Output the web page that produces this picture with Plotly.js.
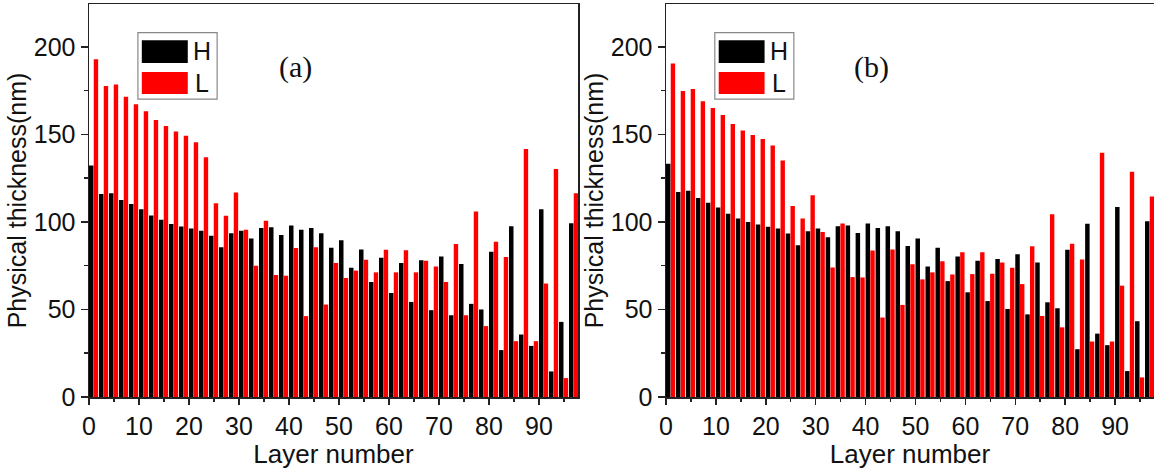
<!DOCTYPE html>
<html><head><meta charset="utf-8">
<script src="https://cdn.plot.ly/plotly-3.0.1.min.js"></script>
<style>html,body{margin:0;padding:0;background:#fff}</style>
</head><body><div id="chart" style="width:1154px;height:469px"></div>
<script>
// Panel (a): H layers (odd), L layers (even)
const hA = [132.2,115.9,116.4,112.6,110.2,107.3,103.7,101.3,98.8,97.4,96.3,95.0,92.1,85.5,93.6,95.0,90.6,96.5,96.9,92.6,
            98.0,95.5,96.5,93.6,85.3,89.5,73.9,84.3,65.7,79.6,59.4,76.5,54.3,78.1,49.6,80.3,46.7,76.0,53.2,50.0,
            83.0,26.8,97.6,35.7,29.2,107.3,14.6,42.9,99.3];
const lA = [193.0,177.6,178.5,171.5,167.3,163.3,158.2,154.8,151.6,149.3,145.5,136.9,110.7,103.5,116.8,95.5,75.0,100.7,69.7,69.3,
            85.1,46.2,85.5,52.8,76.5,68.0,72.2,78.4,71.2,84.1,71.2,83.8,71.2,77.9,74.6,65.7,87.4,46.7,106.0,40.5,
            88.7,80.0,31.9,141.7,31.9,64.8,130.3,10.8,116.4];
// Panel (b)
const hB = [133.2,117.1,117.8,113.7,111.0,108.3,104.7,101.9,100.0,98.5,97.3,96.2,93.4,86.7,94.7,96.2,91.3,97.5,97.9,93.7,
            99.1,96.6,97.5,94.7,86.3,90.5,74.6,85.2,66.2,80.3,59.8,77.8,54.8,78.9,50.3,81.6,47.2,76.9,54.1,50.7,
            84.1,27.3,98.9,36.2,29.6,108.5,14.8,43.3,100.4];
const lB = [190.5,174.8,175.9,168.9,165.1,161.1,156.0,152.2,149.7,147.4,143.6,135.1,109.1,101.9,115.2,94.3,74.0,99.1,68.5,68.3,
            83.7,45.4,84.3,52.6,75.9,67.2,71.2,77.6,70.0,82.7,70.2,82.7,70.4,76.9,73.8,64.5,86.1,46.3,104.4,39.8,
            87.5,78.6,31.7,139.5,31.7,63.6,128.7,11.2,114.6];
const hLayers = hA.map((_, i) => 2 * i + 1);
const lLayers = lA.map((_, i) => 2 * i + 2);
const seriesNames = ['H', 'L'];
const panelLabels = ['(a)', '(b)'];
const xTitle = 'Layer number';
const yTitle = 'Physical thickness(nm)';

const SANS = 'Liberation Sans, Arial, sans-serif';
const SERIF = 'Liberation Serif, Times New Roman, serif';
const AX = '#222';

function barTrace(x, y, color, xa, ya, offset, width) {
  return {type: 'bar', x: x, y: y, offset: offset, width: width,
          marker: {color: color, line: {width: 0}}, xaxis: xa, yaxis: ya,
          showlegend: false, hoverinfo: 'skip'};
}
const data = [
  barTrace(hLayers, hA, '#000000', 'x', 'y', -1, 0.9),
  barTrace(lLayers, lA, '#ff0000', 'x', 'y', -1.05, 0.88),
  barTrace(hLayers, hB, '#000000', 'x2', 'y2', -1, 0.9),
  barTrace(lLayers, lB, '#ff0000', 'x2', 'y2', -1.05, 0.88)
];

function xAxis(domain, anchor) {
  return {domain: domain, anchor: anchor, range: [0, 97.8], showline: true, linecolor: AX, linewidth: 1.5,
    mirror: true, ticks: 'outside', ticklen: 6, tickwidth: 1.5, tickcolor: AX, tick0: 0, dtick: 10,
    minor: {dtick: 5, ticks: 'outside', ticklen: 3, tickwidth: 1.5, tickcolor: AX},
    showgrid: false, zeroline: false, fixedrange: true, ticklabelstandoff: 0,
    tickfont: {family: SANS, size: 25, color: '#111'},
    title: {text: xTitle, font: {family: SANS, size: 26, color: '#111'}, standoff: 4}};
}
function yAxis(anchor) {
  return {domain: [0, 1], anchor: anchor, range: [0, 224.5], showline: true, linecolor: AX, linewidth: 1.5,
    mirror: true, ticks: 'outside', ticklen: 7, tickwidth: 1.5, tickcolor: AX, tick0: 0, dtick: 50,
    minor: {dtick: 25, ticks: 'outside', ticklen: 4, tickwidth: 1.5, tickcolor: AX},
    showgrid: false, zeroline: false, fixedrange: true,
    tickfont: {family: SANS, size: 25, color: '#111'},
    title: {text: yTitle, font: {family: SANS, size: 25, color: '#111'}, standoff: 0}};
}

const shapes = [];
const annotations = [];
[['x', 'y'], ['x2', 'y2']].forEach(([xa, ya], k) => {
  const xr = xa + ' domain', yr = ya + ' domain';
  shapes.push({type: 'rect', xref: xr, yref: yr, x0: 0.100, x1: 0.262, y0: 0.758, y1: 0.927,
               line: {color: '#888', width: 1.2}, fillcolor: 'rgba(0,0,0,0)'});
  shapes.push({type: 'rect', xref: xr, yref: yr, x0: 0.108, x1: 0.202, y0: 0.850, y1: 0.908,
               line: {width: 0}, fillcolor: '#000000'});
  shapes.push({type: 'rect', xref: xr, yref: yr, x0: 0.108, x1: 0.202, y0: 0.771, y1: 0.827,
               line: {width: 0}, fillcolor: '#ff0000'});
  annotations.push({xref: xr, yref: yr, x: 0.232, y: 0.880, text: seriesNames[0], showarrow: false,
                    font: {family: SANS, size: 25, color: '#111'}, xanchor: 'center', yanchor: 'middle'});
  annotations.push({xref: xr, yref: yr, x: 0.232, y: 0.799, text: seriesNames[1], showarrow: false,
                    font: {family: SANS, size: 25, color: '#111'}, xanchor: 'center', yanchor: 'middle'});
  annotations.push({xref: xr, yref: yr, x: 0.422, y: 0.84, text: panelLabels[k], showarrow: false,
                    font: {family: SERIF, size: 30, color: '#111'}, xanchor: 'center', yanchor: 'middle'});
});

const layout = {
  width: 1154, height: 469,
  margin: {l: 0, r: 0, t: 4, b: 72, pad: 0},
  paper_bgcolor: '#fff', plot_bgcolor: '#fff',
  barmode: 'overlay',
  showlegend: false,
  xaxis: xAxis([89 / 1154, 578 / 1154], 'y'),
  yaxis: yAxis('x'),
  xaxis2: xAxis([666 / 1154, 1], 'y2'),
  yaxis2: yAxis('x2'),
  shapes: shapes,
  annotations: annotations
};
Plotly.newPlot('chart', data, layout, {displayModeBar: false, staticPlot: true});
</script></body></html>
